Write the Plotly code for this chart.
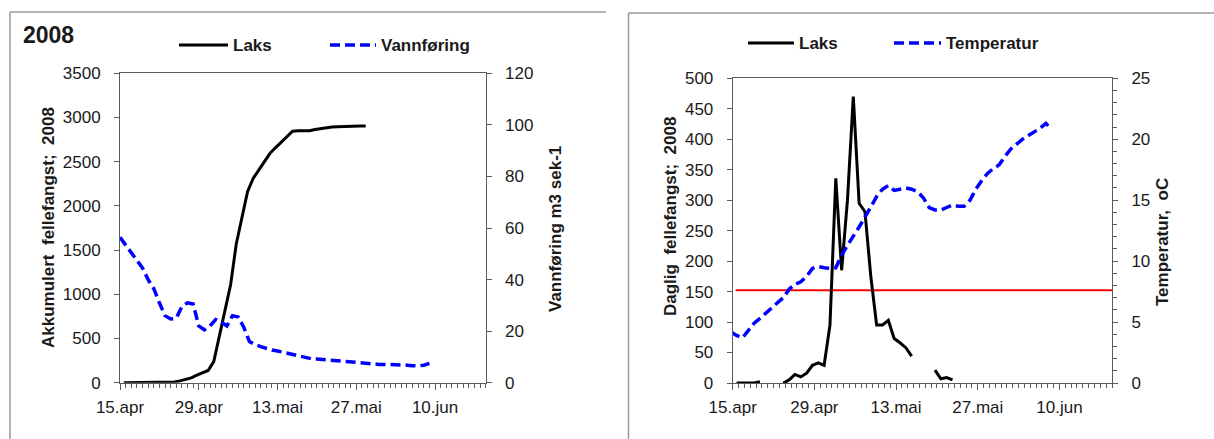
import pandas as pd
import plotly.graph_objects as go

# ---------------- data ----------------
# Left chart: accumulated trap catch (Laks) and water discharge (Vannføring)
laks_akk_start = "2008-04-15 16:00"
laks_akk = [0, 0, 0, 0, 2, 2, 2, 2, 2, 7, 21, 35, 55, 85, 115, 138, 238, 520, 790, 1110,
            1570, 1870, 2160, 2310, 2405, 2510, 2595, 2660, 2725, 2790, 2845, 2850, 2850,
            2850, 2865, 2875, 2885, 2893, 2895, 2895, 2897, 2900, 2903, 2905]

vann_start = "2008-04-15"
vannforing = [56.4, 53.4, 50.3, 47.5, 44.5, 40.0, 36.5, 31.0, 26.0, 24.7, 25.0, 29.5, 31.0,
              30.5, 22.0, 20.5, 22.0, 24.5, 23.5, 22.0, 26.0, 25.5, 21.5, 16.0, 14.8, 14.0,
              13.2, 12.7, 12.3, 11.8, 11.4, 10.8, 10.2, 9.6, 9.3, 9.2, 9.0, 8.9, 8.7, 8.4,
              8.1, 7.8, 7.6, 7.4, 7.2, 7.1, 7.1, 7.1, 7.1, 7.1, 7.0, 6.8, 6.6, 6.5, 6.8, 7.5]

# Right chart: daily trap catch (Laks) and water temperature
laks_daglig_start = "2008-04-15 16:00"
laks_daglig = [0, 0, 0, 0, 2, None, None, None, 0, 5, 14, 10, 16, 29, 33, 29, 95, 336, 185,
               300, 470, 295, 281, 175, 95, 95, 103, 73, 66, 58, 44, None, None, None, 21, 7, 9, 5]

temp_start = "2008-04-14 16:00"
temperatur = [4.2, 3.9, 3.7, 4.3, 4.9, 5.3, 5.75, 6.15, 6.6, 7.0, 7.7, 8.1, 8.3, 8.75, 9.4,
              9.55, 9.45, 9.4, 9.45, 10.5, 11.3, 12.0, 12.8, 13.6, 14.5, 15.3, 15.9, 16.2,
              15.8, 15.9, 16.0, 15.9, 15.7, 15.2, 14.4, 14.2, 14.2, 14.4, 14.6, 14.5, 14.5,
              15.0, 15.9, 16.6, 17.2, 17.6, 17.9, 18.6, 19.2, 19.6, 20.0, 20.3, 20.6, 20.9,
              21.3, 20.8]

terskel_dato = ["2008-04-15 12:00", "2008-06-19"]
terskel_verdi = [152, 152]

x_range = ["2008-04-15", "2008-06-19"]
x_tick_dates = ["2008-04-15", "2008-04-29", "2008-05-13", "2008-05-27", "2008-06-10"]
x_tick_labels = ["15.apr", "29.apr", "13.mai", "27.mai", "10.jun"]

# ---------------- figure ----------------
W, H = 1214, 439
FONT = "Liberation Sans, Arial, sans-serif"
AX = "#5a5a5a"
TXT = "#1a1a1a"


def px(x):
    return x / W


def py(y):
    return 1 - y / H


def dates(start, n):
    return pd.date_range(start, periods=n, freq="D")


fig = go.Figure()

fig.add_trace(go.Scatter(x=dates(vann_start, len(vannforing)), y=vannforing, mode="lines",
                         line=dict(color="#0000ff", width=3.5, dash="10px,5px"),
                         xaxis="x", yaxis="y2", name="Vannføring", showlegend=False))
fig.add_trace(go.Scatter(x=dates(laks_akk_start, len(laks_akk)), y=laks_akk, mode="lines",
                         line=dict(color="#000000", width=3),
                         xaxis="x", yaxis="y", name="Laks", showlegend=False))

fig.add_trace(go.Scatter(x=dates(temp_start, len(temperatur)), y=temperatur, mode="lines",
                         line=dict(color="#0000ff", width=3.5, dash="10px,5px"),
                         xaxis="x2", yaxis="y4", name="Temperatur", showlegend=False))
fig.add_trace(go.Scatter(x=terskel_dato, y=terskel_verdi, mode="lines",
                         line=dict(color="#ff0000", width=2),
                         xaxis="x2", yaxis="y3", showlegend=False))
fig.add_trace(go.Scatter(x=dates(laks_daglig_start, len(laks_daglig)), y=laks_daglig,
                         mode="lines", connectgaps=False,
                         line=dict(color="#000000", width=3),
                         xaxis="x2", yaxis="y3", name="Laks", showlegend=False))

tickfont = dict(family=FONT, size=17, color=TXT)
common_x = dict(range=x_range, type="date", tickmode="array", tickvals=x_tick_dates,
                ticktext=x_tick_labels, ticks="outside", ticklen=6, tickwidth=1,
                tickcolor=AX, showline=True, linecolor=AX, linewidth=1, mirror=True,
                showgrid=False, zeroline=False, tickfont=tickfont, ticklabelstandoff=3,
                automargin=False,
                minor=dict(dtick=86400000, tick0="2008-04-15", ticks="outside", ticklen=4,
                           tickcolor=AX, showgrid=False))
common_y = dict(ticks="outside", ticklen=5, tickwidth=1, tickcolor=AX, showline=True,
                linecolor=AX, linewidth=1, showgrid=False, zeroline=False,
                tickfont=tickfont, ticklabelstandoff=10, automargin=False)
# inner halves of the crossing tick marks on the right-hand axes
inner_y = dict(side="right", ticks="inside", ticklen=5, tickwidth=1, tickcolor=AX,
               showline=False, showgrid=False, zeroline=False, showticklabels=False,
               automargin=False)

fig.update_layout(
    template="none",
    width=W, height=H, margin=dict(l=0, r=0, t=0, b=0, autoexpand=False),
    paper_bgcolor="white", plot_bgcolor="white", showlegend=False,
    xaxis=dict(domain=[px(120), px(485.7)], anchor="y", **common_x),
    yaxis=dict(domain=[py(382.7), py(73.3)], anchor="x", range=[0, 3500], dtick=500,
               **common_y),
    yaxis2=dict(overlaying="y", side="right", anchor="x", range=[0, 120], dtick=20,
                **common_y),
    yaxis5=dict(overlaying="y", anchor="x", range=[0, 120], dtick=20, **inner_y),
    xaxis2=dict(domain=[px(732.7), px(1112)], anchor="y3", **common_x),
    yaxis3=dict(domain=[py(383), py(78.3)], anchor="x2", range=[0, 500], dtick=50,
                **common_y),
    yaxis4=dict(overlaying="y3", side="right", anchor="x2", range=[0, 25], dtick=5,
                minor=dict(dtick=1, ticks="outside", ticklen=4, tickcolor=AX,
                           showgrid=False),
                **common_y),
    yaxis6=dict(overlaying="y3", anchor="x2", range=[0, 25], dtick=1, **inner_y),
)

border = dict(color="#9a9a9a", width=1.5)
shapes = [
    dict(type="line", xref="paper", yref="paper", x0=px(10), x1=px(606), y0=py(12), y1=py(12), line=border),
    dict(type="line", xref="paper", yref="paper", x0=px(10), x1=px(10), y0=py(12), y1=0, line=border),
    dict(type="line", xref="paper", yref="paper", x0=px(628.5), x1=1, y0=py(13), y1=py(13), line=border),
    dict(type="line", xref="paper", yref="paper", x0=px(628.5), x1=px(628.5), y0=py(13), y1=0, line=border),
    # legend keys
    dict(type="line", xref="paper", yref="paper", x0=px(179), x1=px(228), y0=py(45), y1=py(45),
         line=dict(color="#000000", width=3)),
    dict(type="line", xref="paper", yref="paper", x0=px(330), x1=px(376), y0=py(45), y1=py(45),
         line=dict(color="#0000ff", width=3.5, dash="10px,5px")),
    dict(type="line", xref="paper", yref="paper", x0=px(748), x1=px(794), y0=py(43), y1=py(43),
         line=dict(color="#000000", width=3)),
    dict(type="line", xref="paper", yref="paper", x0=px(894), x1=px(941), y0=py(43), y1=py(43),
         line=dict(color="#0000ff", width=3.5, dash="10px,5px")),
]

bold17 = dict(family=FONT, size=17, color=TXT, weight="bold")


def ann(text, x, y, font, xanchor="left", angle=0):
    return dict(text=text, x=px(x), y=py(y), xref="paper", yref="paper", showarrow=False,
                xanchor=xanchor, yanchor="middle", textangle=angle, font=font)


annotations = [
    ann("2008", 21, 35, dict(family=FONT, size=23, color=TXT, weight="bold")),
    ann("Laks", 231, 45, bold17),
    ann("Vannføring", 379, 45, bold17),
    ann("Laks", 797, 43, bold17),
    ann("Temperatur", 944, 43, bold17),
    ann("Akkumulert  fellefangst;  2008", 48, 228, bold17, "center", -90),
    ann("Vannføring m3 sek-1", 555, 229, bold17, "center", -90),
    ann("Daglig  fellefangst;  2008", 670, 217, bold17, "center", -90),
    ann("Temperatur,  oC", 1162, 242, bold17, "center", -90),
]

fig.update_layout(shapes=shapes, annotations=annotations)
fig.write_html("out.html")
